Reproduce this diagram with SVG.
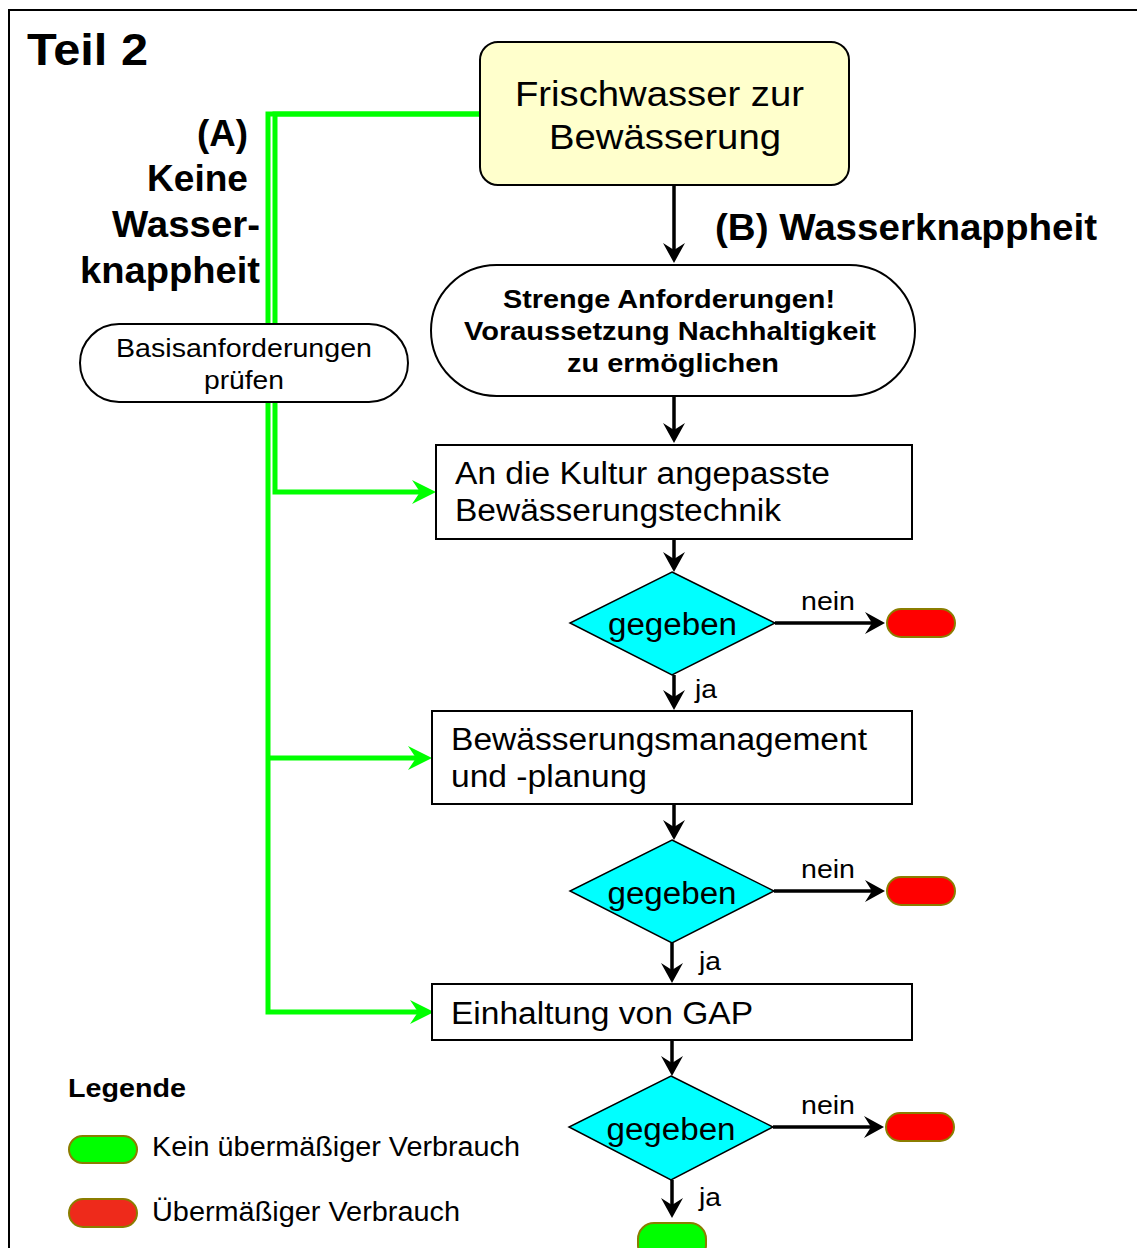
<svg xmlns="http://www.w3.org/2000/svg" width="1137" height="1248" viewBox="0 0 1137 1248">
<defs>
<style>
text{font-family:"Liberation Sans",Arial,sans-serif;fill:#000}
.b{font-weight:bold}
.node{fill:#fff;stroke:#000;stroke-width:2}
.dia{fill:#00FFFF;stroke:#000;stroke-width:1.5}
.red{fill:#FF0000;stroke:#8B7D00;stroke-width:2}
.green{fill:#00FF00;stroke:#8B7D00;stroke-width:2}
.blk{fill:none;stroke:#000;stroke-width:3.5}
.gr{fill:none;stroke:#00FF00;stroke-width:5}
</style>
<marker id="ab" markerUnits="userSpaceOnUse" viewBox="0 0 20 22" refX="10" refY="11" markerWidth="20" markerHeight="22" orient="auto">
<path d="M0,0 L20,11 L0,22 L7,11 z" fill="#000"/>
</marker>
<marker id="ag" markerUnits="userSpaceOnUse" viewBox="0 0 24 24" refX="12" refY="12" markerWidth="24" markerHeight="24" orient="auto">
<path d="M0,0 L24,12 L0,24 L8,12 z" fill="#00FF00"/>
</marker>
</defs>
<rect x="0" y="0" width="1137" height="1248" fill="#fff"/>
<rect x="9" y="10" width="1140" height="1260" fill="none" stroke="#000" stroke-width="2"/>

<g id="labels">
<text x="27" y="65" class="b" font-size="45" textLength="121" lengthAdjust="spacingAndGlyphs">Teil 2</text>
<text x="248" y="146" class="b" font-size="36" text-anchor="end" textLength="51" lengthAdjust="spacingAndGlyphs">(A)</text>
<text x="248" y="191" class="b" font-size="36" text-anchor="end" textLength="101" lengthAdjust="spacingAndGlyphs">Keine</text>
<text x="260" y="237" class="b" font-size="36" text-anchor="end" textLength="148" lengthAdjust="spacingAndGlyphs">Wasser-</text>
<text x="260" y="283" class="b" font-size="36" text-anchor="end" textLength="180" lengthAdjust="spacingAndGlyphs">knappheit</text>
<text x="715" y="240" class="b" font-size="36" textLength="382" lengthAdjust="spacingAndGlyphs">(B) Wasserknappheit</text>
</g>

<g id="connectors">
<path class="gr" d="M480,114 H268 V1012 H422" stroke-width="6" marker-end="url(#ag)"/>
<path class="gr" d="M480,114 H275 V492 H424" marker-end="url(#ag)"/>
<path class="gr" d="M268,758 H420" marker-end="url(#ag)"/>
<path class="blk" d="M674,185 V253" marker-end="url(#ab)"/>
<path class="blk" d="M674,396 V433" marker-end="url(#ab)"/>
<path class="blk" d="M674,539 V562" marker-end="url(#ab)"/>
<path class="blk" d="M674,675 V700" marker-end="url(#ab)"/>
<path class="blk" d="M674,804 V830" marker-end="url(#ab)"/>
<path class="blk" d="M672,943 V973" marker-end="url(#ab)"/>
<path class="blk" d="M672,1040 V1066" marker-end="url(#ab)"/>
<path class="blk" d="M672,1180 V1208" marker-end="url(#ab)"/>
<path class="blk" d="M775,623 H875" stroke-width="4" marker-end="url(#ab)"/>
<path class="blk" d="M774,891 H875" stroke-width="4" marker-end="url(#ab)"/>
<path class="blk" d="M773,1127 H874" stroke-width="4" marker-end="url(#ab)"/>
<text x="828" y="610" font-size="25" text-anchor="middle" textLength="54" lengthAdjust="spacingAndGlyphs">nein</text>
<text x="828" y="878" font-size="25" text-anchor="middle" textLength="54" lengthAdjust="spacingAndGlyphs">nein</text>
<text x="828" y="1114" font-size="25" text-anchor="middle" textLength="54" lengthAdjust="spacingAndGlyphs">nein</text>
<text x="695" y="698" font-size="25" textLength="22" lengthAdjust="spacingAndGlyphs">ja</text>
<text x="699" y="970" font-size="25" textLength="22" lengthAdjust="spacingAndGlyphs">ja</text>
<text x="699" y="1206" font-size="25" textLength="22" lengthAdjust="spacingAndGlyphs">ja</text>
</g>

<g id="n-source">
<rect x="480" y="42" width="369" height="143" rx="18" fill="#FFFFCC" stroke="#000" stroke-width="2"/>
<text x="659.5" y="106" font-size="35" text-anchor="middle" textLength="289" lengthAdjust="spacingAndGlyphs">Frischwasser zur</text>
<text x="665" y="149" font-size="35" text-anchor="middle" textLength="232" lengthAdjust="spacingAndGlyphs">Bewässerung</text>
</g>

<g id="n-basis">
<rect x="80" y="324" width="328" height="78" rx="39" class="node" stroke-width="1.5"/>
<text x="244" y="357" font-size="25" text-anchor="middle" textLength="256" lengthAdjust="spacingAndGlyphs">Basisanforderungen</text>
<text x="244" y="389" font-size="25" text-anchor="middle" textLength="80" lengthAdjust="spacingAndGlyphs">prüfen</text>
</g>

<g id="n-streng">
<rect x="431" y="265" width="484" height="131" rx="65.5" class="node" stroke-width="1.5"/>
<text x="669" y="308" class="b" font-size="25" text-anchor="middle" textLength="332" lengthAdjust="spacingAndGlyphs">Strenge Anforderungen!</text>
<text x="670" y="340" class="b" font-size="25" text-anchor="middle" textLength="412" lengthAdjust="spacingAndGlyphs">Voraussetzung Nachhaltigkeit</text>
<text x="673" y="372" class="b" font-size="25" text-anchor="middle" textLength="212" lengthAdjust="spacingAndGlyphs">zu ermöglichen</text>
</g>

<g id="n-technik">
<rect x="436" y="445" width="476" height="94" class="node"/>
<text x="455" y="484" font-size="31" textLength="375" lengthAdjust="spacingAndGlyphs">An die Kultur angepasste</text>
<text x="455" y="521" font-size="31" textLength="326" lengthAdjust="spacingAndGlyphs">Bewässerungstechnik</text>
</g>

<g id="d1">
<polygon points="672,572 775,623 672,675 570,623" class="dia"/>
<text x="672.5" y="635" font-size="31" text-anchor="middle" textLength="129" lengthAdjust="spacingAndGlyphs">gegeben</text>
</g>
<g id="r1"><rect x="887" y="609" width="68" height="28" rx="14" class="red"/></g>

<g id="n-management">
<rect x="432" y="711" width="480" height="93" class="node"/>
<text x="451" y="750" font-size="31" textLength="416" lengthAdjust="spacingAndGlyphs">Bewässerungsmanagement</text>
<text x="451" y="787" font-size="31" textLength="196" lengthAdjust="spacingAndGlyphs">und -planung</text>
</g>

<g id="d2">
<polygon points="672,840 774,891 672,943 570,891" class="dia"/>
<text x="672" y="904" font-size="31" text-anchor="middle" textLength="129" lengthAdjust="spacingAndGlyphs">gegeben</text>
</g>
<g id="r2"><rect x="887" y="877" width="68" height="28" rx="14" class="red"/></g>

<g id="n-gap">
<rect x="432" y="984" width="480" height="56" class="node"/>
<text x="451" y="1024" font-size="31" textLength="302" lengthAdjust="spacingAndGlyphs">Einhaltung von GAP</text>
</g>

<g id="d3">
<polygon points="671,1076 773,1127 671,1180 569,1127" class="dia"/>
<text x="671" y="1140" font-size="31" text-anchor="middle" textLength="129" lengthAdjust="spacingAndGlyphs">gegeben</text>
</g>
<g id="r3"><rect x="886" y="1113" width="68" height="28" rx="14" class="red"/></g>
<g id="g-end"><rect x="638" y="1223" width="68" height="38" rx="16" class="green"/></g>

<g id="legend">
<text x="68" y="1097" class="b" font-size="26" textLength="118" lengthAdjust="spacingAndGlyphs">Legende</text>
<rect x="69" y="1136" width="68" height="27" rx="13.5" class="green"/>
<text x="152" y="1156" font-size="27" textLength="368" lengthAdjust="spacingAndGlyphs">Kein übermäßiger Verbrauch</text>
<rect x="69" y="1199" width="68" height="28" rx="14" fill="#EE2A1B" stroke="#8B7D00" stroke-width="2"/>
<text x="152" y="1221" font-size="27" textLength="308" lengthAdjust="spacingAndGlyphs">Übermäßiger Verbrauch</text>
</g>
</svg>
